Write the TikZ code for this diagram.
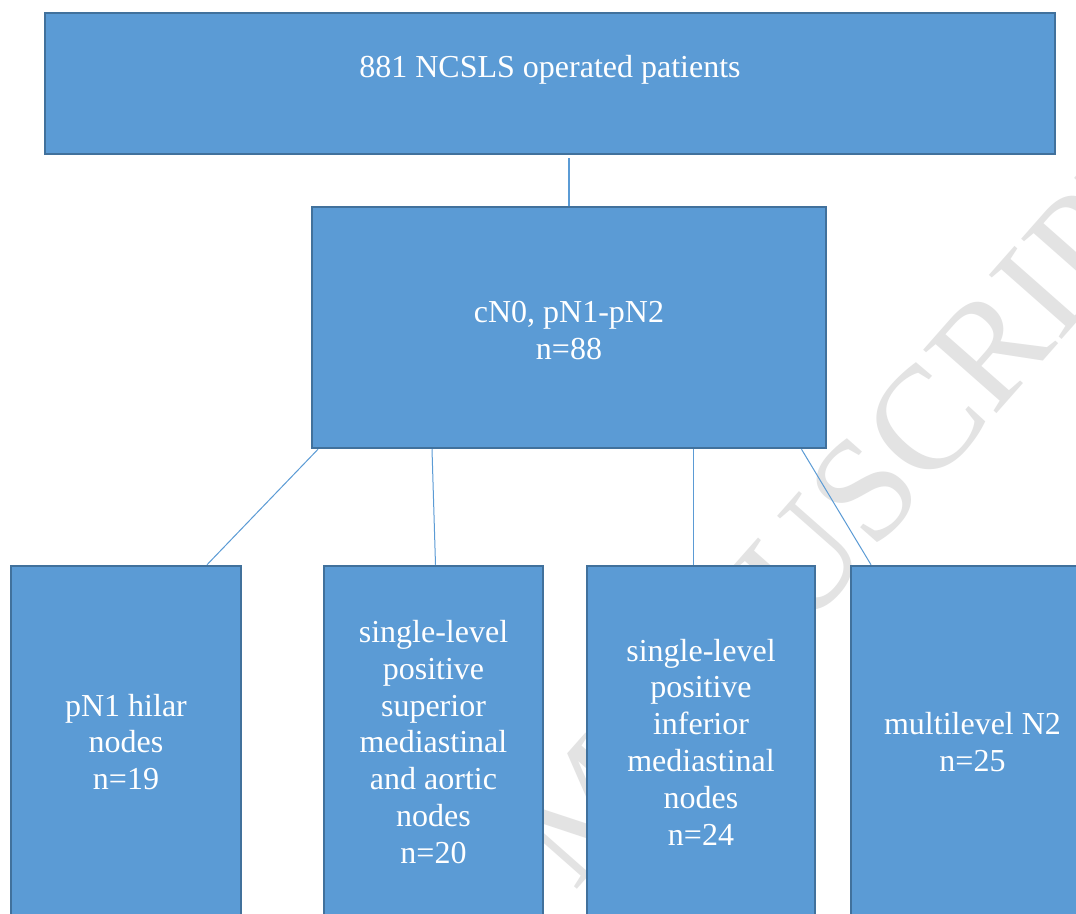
\documentclass[tikz,border=0pt]{standalone}
\usepackage{fontspec}
\setmainfont{Liberation Serif}
\definecolor{boxfill}{HTML}{5B9BD5}
\definecolor{boxline}{HTML}{41719C}
\definecolor{connline}{HTML}{5B9BD5}
\definecolor{wmgray}{HTML}{E3E3E3}
\begin{document}
\begin{tikzpicture}[x=0.5pt,y=-0.5pt,
  box/.style={draw=boxline, fill=boxfill, line width=1.25pt, text=white,
    font=\fontsize{16}{18.4}\selectfont, align=center, inner sep=0pt},
  boxtext/.style={text=white, font=\fontsize{16}{18.4}\selectfont, align=center, inner sep=0pt},
  connector/.style={draw=connline, line width=0.5pt},
  watermark/.style={text=wmgray, font=\fontsize{74}{74}\selectfont, inner sep=0pt}]
\useasboundingbox (0,0) rectangle (1076,914);
\clip (0,0) rectangle (1076,914);
\fill[white] (0,0) rectangle (1076,914);
% watermark
\node[watermark, rotate=48.6] (wmark) at (589,803) {ACCEPTED MANUSCRIPT};
% boxes
\node[box, minimum width=505pt, minimum height=70.5pt] (top) at (550,83.5) {};
\node[boxtext] (toptext) at (550,70) {881 NCSLS operated patients};
\node[box, minimum width=257pt, minimum height=120.5pt] (mid) at (569,327.5) {\rule{0pt}{14pt}cN0, pN1-pN2\\n=88};
\node[box, minimum width=115pt, minimum height=176pt] (b1) at (126,742) {pN1 hilar\\nodes\\n=19};
\node[box, minimum width=109.5pt, minimum height=176pt] (b2) at (433.5,742) {single-level\\positive\\superior\\mediastinal\\and aortic\\nodes\\n=20};
\node[box, minimum width=114pt, minimum height=176pt] (b3) at (701,742) {single-level\\positive\\inferior\\mediastinal\\nodes\\n=24};
\node[box, minimum width=121.5pt, minimum height=176pt] (b4) at (972.5,742) {multilevel N2\\n=25};
% connectors
\draw[connector, line width=0.75pt] (mid.north) -- ([yshift=-1.5pt]mid.north |- top.south);
\draw[connector] ([xshift=-125.5pt]mid.south) -- ([xshift=40.5pt]b1.north);
\draw[connector] ([xshift=-68.5pt]mid.south) -- ([xshift=1pt]b2.north);
\draw[connector] ([xshift=62pt]mid.south) -- ([xshift=-4pt]b3.north);
\draw[connector] ([xshift=116.25pt]mid.south) -- ([xshift=-50.75pt]b4.north);
\end{tikzpicture}
\end{document}
